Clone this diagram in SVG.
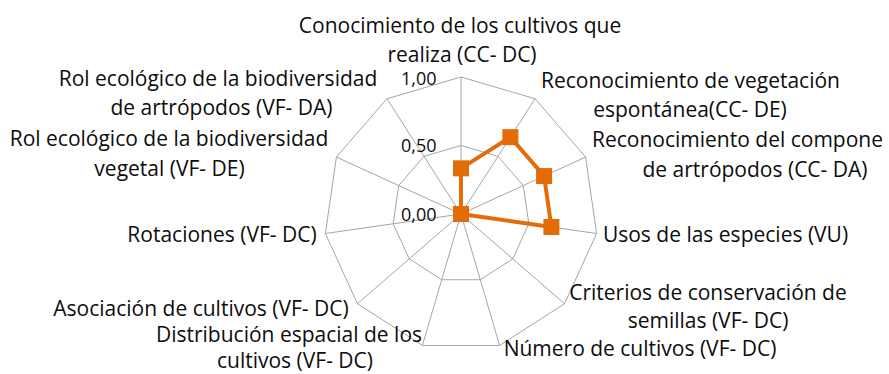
<svg xmlns="http://www.w3.org/2000/svg" width="889" height="374" viewBox="0 0 889 374">
<style>
.grid{fill:none;stroke:#a6a6a6;stroke-width:1}
.series{fill:none;stroke:#e36c09;stroke-width:4;stroke-linejoin:round}
.mk{fill:#e36c09}
.lbl{font-family:"Open Sans","Liberation Sans",sans-serif;font-size:21px;fill:#0d0d0d;text-anchor:middle}
.num{font-family:"Open Sans","Liberation Sans",sans-serif;font-size:18px;fill:#0d0d0d;text-anchor:end}
</style>
<defs>
<rect id="m" x="-8" y="-8" width="16" height="16" class="mk"/>
</defs>
<rect x="0" y="0" width="889" height="374" fill="#ffffff"/>
<g id="grid">
<polygon class="grid" points="461,77 535.06,98.74 585.62,157.09 596.6,233.5 564.53,303.72 499.59,345.45 422.41,345.45 357.47,303.72 325.4,233.5 336.38,157.09 386.94,98.74"/>
<polygon class="grid" points="461,145.5 498.03,156.37 523.31,185.55 528.8,223.75 512.77,258.86 480.3,279.73 441.7,279.73 409.23,258.86 393.2,223.75 398.69,185.55 423.97,156.37"/>
</g>
<g id="connectors">
<line class="grid" x1="461" y1="214" x2="461" y2="77"/>
<line class="grid" x1="461" y1="214" x2="535.06" y2="98.74"/>
<line class="grid" x1="461" y1="214" x2="585.62" y2="157.09"/>
<line class="grid" x1="461" y1="214" x2="596.6" y2="233.5"/>
<line class="grid" x1="461" y1="214" x2="564.53" y2="303.72"/>
<line class="grid" x1="461" y1="214" x2="499.59" y2="345.45"/>
<line class="grid" x1="461" y1="214" x2="422.41" y2="345.45"/>
<line class="grid" x1="461" y1="214" x2="357.47" y2="303.72"/>
<line class="grid" x1="461" y1="214" x2="325.4" y2="233.5"/>
<line class="grid" x1="461" y1="214" x2="336.38" y2="157.09"/>
<line class="grid" x1="461" y1="214" x2="386.94" y2="98.74"/>
</g>
<g id="axis-values">
<text class="num" x="436.5" y="85">1,00</text>
<text class="num" x="436.5" y="152">0,50</text>
<text class="num" x="436.5" y="220.5">0,00</text>
</g>
<g id="series">
<polygon class="series" points="461,168.33 510.37,137.16 544.08,176.06 551.4,227 461,214"/>
<use href="#m" x="461" y="168.33"/>
<use href="#m" x="510.37" y="137.16"/>
<use href="#m" x="544.08" y="176.06"/>
<use href="#m" x="551.4" y="227"/>
<use href="#m" x="461" y="214"/>
</g>
<g id="label-cc-dc">
<text class="lbl" x="460" y="32.5">Conocimiento de los cultivos que</text>
<text class="lbl" x="462" y="62">realiza (CC- DC)</text>
</g>
<g id="label-cc-de">
<text class="lbl" x="690.5" y="87.5">Reconocimiento de vegetación</text>
<text class="lbl" x="690" y="117">espontánea(CC- DE)</text>
</g>
<g id="label-cc-da">
<text class="lbl" x="592" y="147" style="text-anchor:start">Reconocimiento del compone</text>
<text class="lbl" x="755" y="176.5">de artrópodos (CC- DA)</text>
</g>
<g id="label-vu">
<text class="lbl" x="725.5" y="241.5">Usos de las especies (VU)</text>
</g>
<g id="label-criterios">
<text class="lbl" x="708" y="299.5">Criterios de conservación de</text>
<text class="lbl" x="708" y="328">semillas (VF- DC)</text>
</g>
<g id="label-numero">
<text class="lbl" x="640" y="356">Número de cultivos (VF- DC)</text>
</g>
<g id="label-distribucion">
<text class="lbl" x="289" y="342">Distribución espacial de los</text>
<text class="lbl" x="295" y="367.5">cultivos (VF- DC)</text>
</g>
<g id="label-asociacion">
<text class="lbl" x="201" y="316">Asociación de cultivos (VF- DC)</text>
</g>
<g id="label-rotaciones">
<text class="lbl" x="222" y="241.5">Rotaciones (VF- DC)</text>
</g>
<g id="label-vf-de">
<text class="lbl" x="169" y="146">Rol ecológico de la biodiversidad</text>
<text class="lbl" x="169.5" y="176">vegetal (VF- DE)</text>
</g>
<g id="label-vf-da">
<text class="lbl" x="218" y="86">Rol ecológico de la biodiversidad</text>
<text class="lbl" x="221.5" y="115">de artrópodos (VF- DA)</text>
</g>
</svg>
